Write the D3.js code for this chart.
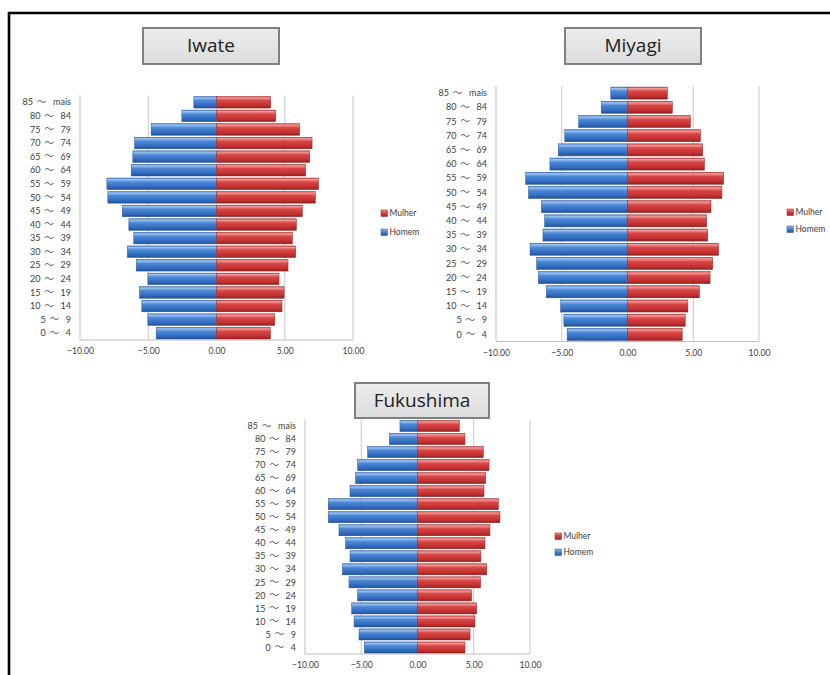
<!DOCTYPE html>
<html>
<head>
<meta charset="utf-8">
<script src="https://cdn.jsdelivr.net/npm/d3@7"></script>
<style>
  html, body { margin: 0; padding: 0; background: #fff; }
  svg { display: block; }
</style>
</head>
<body>
<svg id="chart" width="830" height="675"></svg>
<script>
// ---------- DATA ----------
const ageGroups = ["0 ～ 4", "5 ～ 9", "10 ～ 14", "15 ～ 19", "20 ～ 24", "25 ～ 29", "30 ～ 34",
  "35 ～ 39", "40 ～ 44", "45 ～ 49", "50 ～ 54", "55 ～ 59", "60 ～ 64", "65 ～ 69",
  "70 ～ 74", "75 ～ 79", "80 ～ 84", "85 ～ mais"];

const iwateHomem  = [-4.42, -5.03, -5.47, -5.64, -5.03, -5.88, -6.54, -6.06, -6.42, -6.91, -7.96, -8.03, -6.25, -6.13, -6.00, -4.79, -2.54, -1.66];
const iwateMulher = [3.95, 4.27, 4.80, 4.95, 4.58, 5.24, 5.80, 5.56, 5.85, 6.29, 7.24, 7.48, 6.53, 6.83, 7.00, 6.09, 4.34, 3.97];

const miyagiHomem  = [-4.59, -4.84, -5.09, -6.18, -6.78, -6.91, -7.41, -6.43, -6.30, -6.55, -7.53, -7.74, -5.90, -5.27, -4.77, -3.71, -2.00, -1.27];
const miyagiMulher = [4.16, 4.39, 4.59, 5.47, 6.28, 6.48, 6.93, 6.10, 6.02, 6.35, 7.18, 7.31, 5.85, 5.72, 5.55, 4.79, 3.41, 3.03];

const fukushimaHomem  = [-4.73, -5.20, -5.64, -5.85, -5.32, -6.09, -6.68, -6.00, -6.39, -6.98, -7.93, -7.93, -6.00, -5.50, -5.32, -4.43, -2.50, -1.56];
const fukushimaMulher = [4.22, 4.67, 5.11, 5.26, 4.81, 5.61, 6.16, 5.64, 6.00, 6.44, 7.33, 7.19, 5.91, 6.06, 6.36, 5.85, 4.22, 3.72];

const xTicks = [-10, -5, 0, 5, 10];
const seriesNames = ["Mulher", "Homem"];
const titles = ["Iwate", "Miyagi", "Fukushima"];

// ---------- DRAW ----------
const svg = d3.select("#chart");
const defs = svg.append("defs");

function grad(id, stops) {
  const g = defs.append("linearGradient").attr("id", id)
    .attr("x1", 0).attr("y1", 0).attr("x2", 0).attr("y2", 1);
  stops.forEach(s => g.append("stop").attr("offset", s[0]).attr("stop-color", s[1]));
}
grad("gBlue", [[0, "#4a86d6"], [0.12, "#9cc2ee"], [0.35, "#4c88d8"], [0.8, "#2f68bb"], [1, "#1f4f98"]]);
grad("gRed", [[0, "#d84a4a"], [0.12, "#f09a98"], [0.35, "#d94646"], [0.8, "#c02e2e"], [1, "#8e1f1f"]]);
grad("gBox", [[0, "#ededed"], [1, "#dcdcdc"]]);

// outer frame
svg.append("line").attr("x1", 9).attr("y1", 12).attr("x2", 9).attr("y2", 675)
  .attr("stroke", "#000").attr("stroke-width", 2.6);
svg.append("line").attr("x1", 8).attr("y1", 13).attr("x2", 830).attr("y2", 13)
  .attr("stroke", "#000").attr("stroke-width", 2.6);

const layouts = [
  { title: titles[0], homem: iwateHomem, mulher: iwateMulher,
    x0: 80, x1: 353, y0: 95.5, y1: 340, labelX: 71,
    box: [143, 28, 136, 36], legend: [381, 213, 19] },
  { title: titles[1], homem: miyagiHomem, mulher: miyagiMulher,
    x0: 496, x1: 759, y0: 86, y1: 341.5, labelX: 487,
    box: [565, 28, 136, 36], legend: [787, 212, 17] },
  { title: titles[2], homem: fukushimaHomem, mulher: fukushimaMulher,
    x0: 305, x1: 530, y0: 419.5, y1: 654, labelX: 296,
    box: [355, 383, 134, 35], legend: [555, 536, 16] }
];

const catFont = "Lato, 'Noto Sans CJK JP', sans-serif";
const cjkFont = "'Noto Sans CJK JP', sans-serif";

layouts.forEach(L => {
  const g = svg.append("g");
  const x = d3.scaleLinear().domain([-10, 10]).range([L.x0, L.x1]);
  const y = d3.scaleBand().domain(ageGroups.slice().reverse()).range([L.y0, L.y1])
    .paddingInner(0.15).paddingOuter(0.075);

  // gridlines
  g.selectAll(".grid").data(xTicks.filter(t => t !== -10 && t !== 0)).join("line")
    .attr("x1", d => x(d)).attr("x2", d => x(d))
    .attr("y1", L.y0).attr("y2", L.y1)
    .attr("stroke", "#c8c8c8").attr("stroke-width", 1);

  // axes lines
  g.append("line").attr("x1", L.x0).attr("x2", L.x0).attr("y1", L.y0).attr("y2", L.y1)
    .attr("stroke", "#bdbdbd");
  g.append("line").attr("x1", L.x0).attr("x2", L.x1).attr("y1", L.y1).attr("y2", L.y1)
    .attr("stroke", "#bdbdbd");

  // bars
  g.selectAll(".h").data(L.homem).join("rect")
    .attr("x", d => x(d)).attr("width", d => x(0) - x(d))
    .attr("y", (d, i) => y(ageGroups[i])).attr("height", y.bandwidth())
    .attr("fill", "url(#gBlue)").attr("stroke", "#2a5596").attr("stroke-width", 0.5);
  g.selectAll(".m").data(L.mulher).join("rect")
    .attr("x", x(0)).attr("width", d => x(d) - x(0))
    .attr("y", (d, i) => y(ageGroups[i])).attr("height", y.bandwidth())
    .attr("fill", "url(#gRed)").attr("stroke", "#922424").attr("stroke-width", 0.5);

  // x axis tick labels
  const xAxis = d3.axisBottom(x).tickValues(xTicks).tickSize(0).tickPadding(8)
    .tickFormat(d3.format(".2f"));
  const ax = g.append("g").attr("transform", `translate(0,${L.y1})`).call(xAxis);
  ax.select(".domain").remove();
  ax.selectAll("text").attr("font-family", catFont).attr("font-size", 8.6).attr("fill", "#404040");

  // category labels (built on the band axis ticks, split around the wave dash)
  const yAxis = d3.axisLeft(y).tickSize(0).tickPadding(0).tickFormat("");
  const ay = g.append("g").attr("transform", `translate(${L.labelX},0)`).call(yAxis);
  ay.select(".domain").remove();
  ay.selectAll(".tick").each(function(d) {
    const t = d3.select(this);
    t.select("text").remove();
    const parts = d.split(" ～ ");
    const right = t.append("text").attr("x", 0).attr("dy", "0.35em")
      .attr("text-anchor", "end").attr("font-family", catFont).attr("font-size", 9)
      .attr("fill", "#404040").text(parts[1]);
    const w = right.node().getComputedTextLength();
    const tc = -w - 11.5;
    t.append("text").attr("x", tc).attr("dy", "0.3em")
      .attr("text-anchor", "middle").attr("font-family", cjkFont).attr("font-size", 9.5)
      .attr("fill", "#505050").text("～");
    t.append("text").attr("x", tc - 8.5).attr("dy", "0.35em")
      .attr("text-anchor", "end").attr("font-family", catFont).attr("font-size", 9)
      .attr("fill", "#404040").text(parts[0]);
  });

  // title box
  const [bx, by, bw, bh] = L.box;
  g.append("rect").attr("x", bx).attr("y", by).attr("width", bw).attr("height", bh)
    .attr("fill", "url(#gBox)").attr("stroke", "#808080").attr("stroke-width", 2);
  g.append("text").attr("x", bx + bw / 2).attr("y", by + bh / 2 + 1)
    .attr("text-anchor", "middle").attr("dominant-baseline", "middle")
    .attr("font-family", "'Open Sans', Lato, sans-serif").attr("font-size", 19)
    .attr("fill", "#222").text(L.title);

  // legend
  const [lx, ly, lgap] = L.legend;
  const fills = ["url(#gRed)", "url(#gBlue)"];
  const strokes = ["#922424", "#2a5596"];
  seriesNames.forEach((s, i) => {
    const yy = ly + i * lgap;
    g.append("rect").attr("x", lx).attr("y", yy - 3).attr("width", 6.5).attr("height", 6.5)
      .attr("fill", fills[i]).attr("stroke", strokes[i]).attr("stroke-width", 0.5);
    g.append("text").attr("x", lx + 8.5).attr("y", yy + 0.5).attr("dominant-baseline", "middle")
      .attr("font-family", catFont).attr("font-size", 8.5).attr("fill", "#404040").text(s);
  });
});
</script>
</body>
</html>
